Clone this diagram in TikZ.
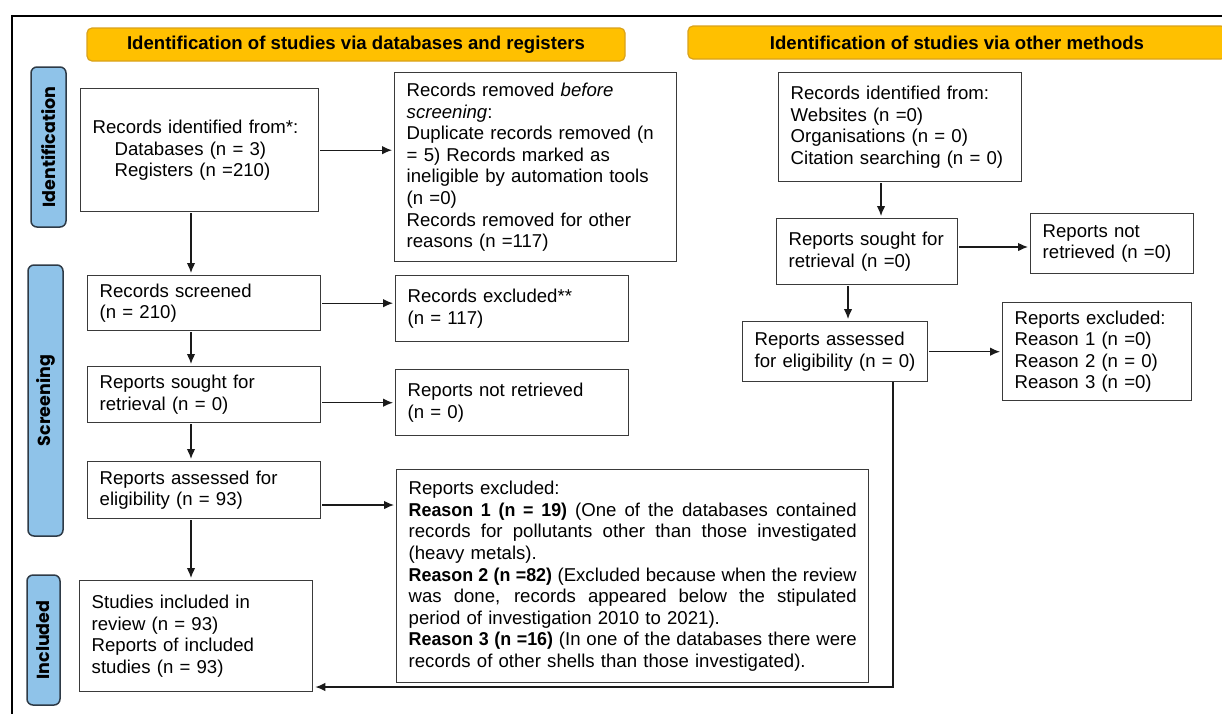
\documentclass[tikz,border=0pt]{standalone}
\usepackage{fontspec}
\setmainfont{Liberation Sans}
\newfontfamily\lblfont{Poppins}
\usetikzlibrary{arrows.meta}
\definecolor{hdrfill}{HTML}{FFC000}
\definecolor{hdrline}{HTML}{D9A21B}
\definecolor{lblfill}{HTML}{8FC3E9}
\definecolor{lblline}{HTML}{2E3A46}
\definecolor{boxline}{HTML}{3A3A3A}
\definecolor{arrline}{HTML}{1A1A1A}
\newcommand\jline[1]{\leavevmode\hbox to 448pt{\spaceskip=0pt\xspaceskip=0pt\relax #1}}
\newcommand\rb[1]{{\bfseries\addfontfeature{FakeStretch=0.96}#1}}
\tikzset{
  box/.style={draw=boxline, line width=1.4pt, rectangle, anchor=north west,
    inner xsep=12pt, inner ysep=2pt, align=left,
    font=\fontsize{18.6}{21.6}\selectfont},
  hdr/.style={draw=hdrline, fill=hdrfill, line width=1.2pt, rounded corners=5pt,
    font=\fontsize{18.6}{21.6}\selectfont\bfseries, inner sep=0pt},
  lbl/.style={draw=lblline, fill=lblfill, line width=1.5pt, rounded corners=6pt,
    rotate=90, inner sep=0pt, font=\lblfont\fontsize{17.5}{20}\selectfont\bfseries},
  arr/.style={draw=arrline, line width=1.2pt, -{Latex[length=10pt,width=8.5pt]},
    shorten >=2pt, shorten <=1pt}
}
\begin{document}
\begin{tikzpicture}[x=1pt,y=-1pt]
\useasboundingbox (0,0) rectangle (1222,713);
\clip (0,0) rectangle (1222,713);
% frame
\draw[line width=2.5pt, black] (11,16) -- (1226,16);
\draw[line width=2.5pt, black] (12,14.75) -- (12,716);
% headers
\node[hdr, minimum width=538pt, minimum height=33pt] (h1) at (356,44.5)
  {Identification of studies via databases and registers};
\node[hdr, minimum width=538pt, minimum height=33pt] (h2) at (957,42.5)
  {Identification of studies via other methods};
% side labels
\node[lbl, minimum width=160pt, minimum height=35pt] (l1) at (48.5,147) {Identification};
\node[lbl, minimum width=271pt, minimum height=35pt] (l2) at (45.5,400.5) {Screening};
\node[lbl, minimum width=130pt, minimum height=33pt] (l3) at (43.5,640) {Included};
% left column
\node[box, text width=214pt, minimum height=123pt] (b1) at (80,88)
  {Records identified from*:\\ \hspace*{22pt}Databases (n = 3)\\ \hspace*{22pt}Registers (n =210)};
\node[box, text width=258pt, minimum height=189pt] (b2) at (394,72)
  {Records removed \textit{before}\\ \textit{screening}:\\ Duplicate records removed (n\\ = 5) Records marked as\\ ineligible by automation tools\\ (n =0)\\ Records removed for other\\ reasons (n =117)};
\node[box, text width=209pt, minimum height=55pt] (b3) at (87,275)
  {Records screened\\ (n = 210)};
\node[box, text width=209pt, minimum height=66pt] (b4) at (395,275)
  {Records excluded**\\ (n = 117)};
\node[box, text width=209pt, minimum height=56pt] (b5) at (87,366)
  {Reports sought for\\ retrieval (n = 0)};
\node[box, text width=209pt, minimum height=66pt] (b6) at (395,369)
  {Reports not retrieved\\ (n = 0)};
\node[box, text width=209pt, minimum height=57pt] (b7) at (87,461)
  {Reports assessed for\\ eligibility (n = 93)};
\node[box, text width=448pt, minimum height=213pt] (b8) at (396,469)
  {Reports excluded:\\
   \jline{\rb{Reason 1 (n = 19)} (One of the databases contained}\\
   \jline{records for pollutants other than those investigated}\\
   (heavy metals).\\
   \jline{\rb{Reason 2 (n =82)} (Excluded because when the review}\\
   \jline{was done, records appeared below the stipulated}\\
   period of investigation 2010 to 2021).\\
   \jline{\rb{Reason 3 (n =16)} (In one of the databases there were}\\
   records of other shells than those investigated).};
\node[box, text width=209pt, minimum height=111pt] (b9) at (79,580)
  {Studies included in\\ review (n = 93)\\ Reports of included\\ studies (n = 93)};
% right column
\node[box, text width=219pt, minimum height=109pt] (r1) at (778,72)
  {Records identified from:\\ Websites (n =0)\\ Organisations (n = 0)\\ Citation searching (n = 0)};
\node[box, text width=157pt, minimum height=66pt] (r2) at (776,218)
  {Reports sought for\\ retrieval (n =0)};
\node[box, text width=139pt, minimum height=60pt] (r3) at (1030,213)
  {Reports not\\ retrieved (n =0)};
\node[box, text width=161pt, minimum height=60pt] (r4) at (742,321)
  {Reports assessed\\ for eligibility (n = 0)};
\node[box, text width=165pt, minimum height=98pt] (r5) at (1002,302)
  {Reports excluded:\\ Reason 1 (n =0)\\ Reason 2 (n = 0)\\ Reason 3 (n =0)};
% helper coordinates
\coordinate (vx) at (191,0);
\coordinate (y8) at (0,505);
\coordinate (rx1) at (881,0);
\coordinate (ry2) at (0,247);
\coordinate (rx2) at (848,0);
\coordinate (cx) at (893,687);
% connectors left
\draw[arr] (b1.east) -- (b1.east -| b2.west);
\draw[arr] (b1.south -| vx) -- (b3.north -| vx);
\draw[arr] (b3.east) -- (b3.east -| b4.west);
\draw[arr] (b3.south -| vx) -- (b5.north -| vx);
\draw[arr] (b6.west -| b5.east) -- (b6.west);
\draw[arr] (b5.south -| vx) -- (b7.north -| vx);
\draw[arr] (b7.east |- y8) -- (b8.west |- y8);
\draw[arr] (b7.south -| vx) -- (b9.north -| vx);
% connectors right
\draw[arr] (r1.south -| rx1) -- (r2.north -| rx1);
\draw[arr] (r2.east |- ry2) -- (r3.west |- ry2);
\draw[arr] (r2.south -| rx2) -- (r4.north -| rx2);
\draw[arr] (r4.east) -- (r4.east -| r5.west);
\draw[arr, shorten <=0pt] (r4.south -| cx) |- (b9.east |- cx);
\end{tikzpicture}
\end{document}
